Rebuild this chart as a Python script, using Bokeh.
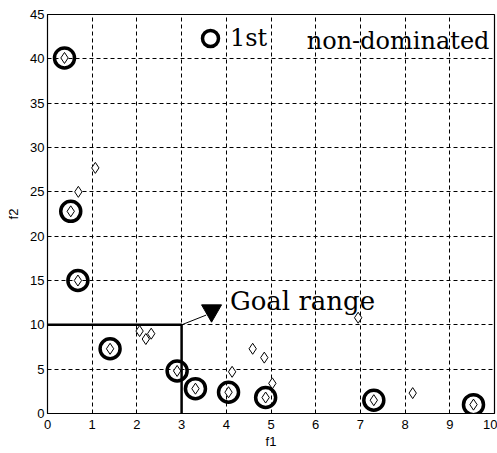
from bokeh.plotting import figure
from bokeh.models import Label, Legend, LegendItem, FixedTicker, Range1d
from bokeh.embed import file_html
from bokeh.resources import INLINE

# 1st non-dominated solutions (circled)
nd_f1 = [0.38, 0.52, 0.68, 1.40, 2.90, 3.31, 4.05, 4.88, 7.30, 9.53]
nd_f2 = [40.1, 22.8, 15.0, 7.3, 4.8, 2.8, 2.4, 1.8, 1.5, 1.0]

# other solutions (diamonds only)
other_f1 = [1.07, 0.69, 2.06, 2.20, 2.32, 4.13, 4.59, 4.85, 5.03, 6.95, 8.17]
other_f2 = [27.7, 25.0, 9.3, 8.4, 9.0, 4.7, 7.3, 6.3, 3.4, 10.8, 2.3]

# goal range
goal_f1 = 3
goal_f2 = 10

x_ticks = list(range(0, 11))
y_ticks = list(range(0, 46, 5))

tick_font = "Liberation Sans"
serif = "DejaVu Serif"

p = figure(width=497, height=453, output_backend="svg", toolbar_location=None,
           x_range=Range1d(0, 10), y_range=Range1d(0, 45),
           min_border_left=47, min_border_right=3, min_border_top=14, min_border_bottom=40)
p.background_fill_color = "white"
p.border_fill_color = "white"
p.outline_line_color = "black"
p.outline_line_width = 1.2

for ax in (p.xaxis[0], p.yaxis[0]):
    ax.major_label_text_font = tick_font
    ax.major_label_text_font_size = "13px"
    ax.major_label_text_color = "black"
    ax.axis_label_text_font = tick_font
    ax.axis_label_text_font_size = "13px"
    ax.axis_label_text_font_style = "normal"
    ax.axis_label_text_color = "black"
    ax.axis_line_color = "black"
    ax.major_tick_in = 0
    ax.major_tick_out = 0
    ax.minor_tick_in = 0
    ax.minor_tick_out = 0
p.xaxis.ticker = FixedTicker(ticks=x_ticks)
p.yaxis.ticker = FixedTicker(ticks=y_ticks)
p.xaxis.axis_label = "f1"
p.yaxis.axis_label = "f2"
p.xaxis.major_label_standoff = 6
p.yaxis.major_label_standoff = 3
p.xaxis.axis_label_standoff = 2
p.yaxis.axis_label_standoff = 6

for g in (p.xgrid[0], p.ygrid[0]):
    g.grid_line_color = "black"
    g.grid_line_dash = "4 3"
    g.grid_line_width = 1
    g.grid_line_alpha = 1.0

# goal range box
p.line([0, goal_f1, goal_f1], [goal_f2, goal_f2, 0], line_color="black", line_width=2.5)

# pointer line and arrow head to label
p.line([goal_f1, 3.55], [goal_f2, 11.1], line_color="black", line_width=1)
p.scatter([3.67], [11.6], marker="inverted_triangle", size=20, fill_color="black", line_color="black")

# diamonds for all solutions
p.scatter(other_f1 + nd_f1, other_f2 + nd_f2, marker="diamond", size=11,
          fill_color="white", line_color="black", line_width=1)

# circles for non-dominated
circ = p.scatter(nd_f1, nd_f2, marker="circle", size=20, fill_alpha=0,
                 line_color="black", line_width=3.5)

p.add_layout(Label(x=4.08, y=11.0, text="Goal range", text_font=serif,
                   text_font_size="26px", text_color="black"))

legend = Legend(items=[LegendItem(label="1st", renderers=[circ])],
                location=(143, 355), glyph_width=40, glyph_height=40,
                label_standoff=-9, padding=0, margin=0, spacing=0,
                border_line_color=None, background_fill_alpha=0,
                label_text_font=serif, label_text_font_size="24px",
                label_text_color="black")
p.add_layout(legend)
p.add_layout(Label(x=5.8, y=42.05, text="non-dominated", text_font=serif,
                   text_font_size="24px", text_color="black", text_baseline="middle"))

open("out.html", "w").write(file_html(p, INLINE))
